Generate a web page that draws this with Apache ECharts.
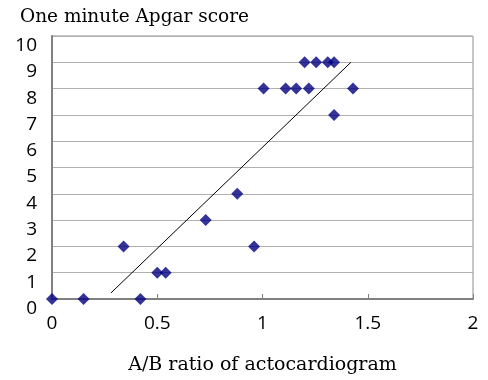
<!DOCTYPE html>
<html><head><meta charset="utf-8">
<script src="https://cdn.jsdelivr.net/npm/echarts@6/dist/echarts.min.js"></script>
<style>html,body{margin:0;padding:0;background:#fff}#c{width:488px;height:380px}</style>
</head><body><div id="c"></div>
<script>
var ratio = [0, 0.15, 0.42, 0.34, 0.50, 0.54, 0.73, 0.88, 0.96, 1.005, 1.11, 1.16, 1.22, 1.43, 1.20, 1.255, 1.31, 1.34, 1.34];
var apgar = [0, 0, 0, 2, 1, 1, 3, 4, 2, 8, 8, 8, 8, 8, 9, 9, 9, 9, 7];
var trendX = [0.28, 1.42];
var trendY = [0.23, 9.0];
var xTicks = [0, 0.5, 1, 1.5, 2];
var yTicks = [0, 1, 2, 3, 4, 5, 6, 7, 8, 9, 10];
var pts = ratio.map(function (v, i) { return [v, apgar[i]]; });
var line = trendX.map(function (v, i) { return [v, trendY[i]]; });
var chart = echarts.init(document.getElementById('c'));
chart.setOption({
  animation: false,
  title: {text: 'One minute Apgar score', left: 15, top: 3,
    textStyle: {fontFamily: 'DejaVu Serif', fontSize: 18.5, fontWeight: 'normal', color: '#000'}},
  grid: {left: 52, right: 15, top: 36, bottom: 79, show: true, borderColor: '#8c8c8c', borderWidth: 1},
  xAxis: {type: 'value', min: 0, max: 2, interval: 0.5,
    name: 'A/B ratio of actocardiogram', nameLocation: 'middle', nameGap: 57,
    nameTextStyle: {fontFamily: 'DejaVu Serif', fontSize: 19, color: '#000'},
    axisLine: {lineStyle: {color: '#808080', width: 2}},
    axisTick: {show: true, inside: true, length: 5, lineStyle: {color: '#808080'}},
    splitLine: {show: false},
    axisLabel: {fontFamily: 'Open Sans', fontSize: 19, color: '#000', margin: 15,
      formatter: function (v) { return xTicks.indexOf(v) >= 0 ? String(v) : ''; }}},
  yAxis: {type: 'value', min: 0, max: 10, interval: 1,
    axisLine: {show: true, lineStyle: {color: '#808080', width: 2}},
    axisTick: {show: false},
    splitLine: {lineStyle: {color: '#b0b0b0', width: 1}},
    axisLabel: {fontFamily: 'Open Sans', fontSize: 19, color: '#000', margin: 15, verticalAlign: 'top',
      formatter: function (v) { return yTicks.indexOf(v) >= 0 ? String(v) : ''; }}},
  series: [
    {type: 'line', data: line, symbol: 'none', lineStyle: {color: '#000', width: 1}, z: 1},
    {type: 'scatter', data: pts, symbol: 'diamond', symbolSize: 12, itemStyle: {color: '#000080'}, z: 3}
  ]
});
</script></body></html>
